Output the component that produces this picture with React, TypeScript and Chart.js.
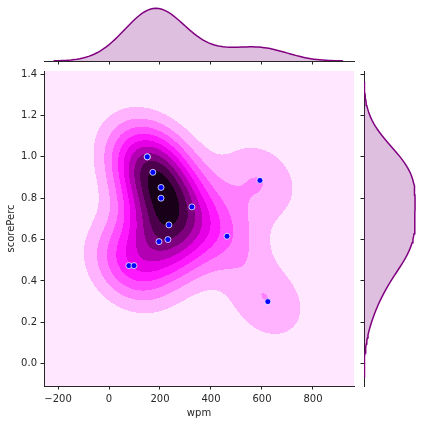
import React, { useEffect, useRef } from 'react';
import { Chart, registerables } from 'chart.js';

Chart.register(...registerables);

// ---- data ----
// (150, 1.0) appears twice: two overlapping markers (the KDE extents and marginals need the 14th point)
const WPM = [150, 150, 172, 204, 204, 325, 235, 231, 196, 78, 98, 592, 463, 623];
const SCORE_PERC = [1.0, 1.0, 0.925, 0.852, 0.8, 0.758, 0.671, 0.6, 0.59, 0.474, 0.474, 0.886, 0.616, 0.3];
const X_TICKS = [-200, 0, 200, 400, 600, 800];
const Y_TICKS = [0.0, 0.2, 0.4, 0.6, 0.8, 1.0, 1.2, 1.4];
const X_LIMITS = [-255, 961];
const Y_LIMITS = [-0.108, 1.415];
const X_LABEL = 'wpm';
const Y_LABEL = 'scorePerc';

const PURPLE = '#800080';
const PURPLE_FILL = 'rgba(128,0,128,0.25)';
const INK = '#262626';
const FONT = { family: 'DejaVu Sans', size: 10 };
const W = 424;
const H = 424;
const GRID = 100;

// ---- kernel density (scipy gaussian_kde, Scott's rule) ----
const mean = (a: number[]) => a.reduce((s, v) => s + v, 0) / a.length;
const cov = (a: number[], b: number[], ddof = 1) => {
  const ma = mean(a), mb = mean(b);
  let s = 0;
  for (let i = 0; i < a.length; i++) s += (a[i] - ma) * (b[i] - mb);
  return s / (a.length - ddof);
};

function kde2d(xs: number[], ys: number[]) {
  const n = xs.length;
  const f2 = Math.pow(n, -2 / 6);
  const sxx = cov(xs, xs) * f2, syy = cov(ys, ys) * f2, sxy = cov(xs, ys) * f2;
  const det = sxx * syy - sxy * sxy;
  const ixx = syy / det, iyy = sxx / det, ixy = -sxy / det;
  const norm = 1 / (n * 2 * Math.PI * Math.sqrt(det));
  const fn = (x: number, y: number) => {
    let s = 0;
    for (let i = 0; i < n; i++) {
      const dx = x - xs[i], dy = y - ys[i];
      s += Math.exp(-0.5 * (ixx * dx * dx + 2 * ixy * dx * dy + iyy * dy * dy));
    }
    return s * norm;
  };
  const factor = Math.pow(n, -1 / 6);
  const bwx = factor * Math.sqrt(cov(xs, xs));
  const bwy = factor * Math.sqrt(cov(ys, ys));
  return { fn, bwx, bwy };
}

function kde1d(vals: number[]) {
  const n = vals.length;
  const f = Math.pow(n, -0.2);
  const bw = f * Math.sqrt(cov(vals, vals));
  const bwSupport = f * Math.sqrt(cov(vals, vals, 0));
  const fn = (x: number) => {
    let s = 0;
    for (const v of vals) {
      const d = (x - v) / bw;
      s += Math.exp(-0.5 * d * d);
    }
    return s / (n * bw * Math.sqrt(2 * Math.PI));
  };
  const lo = Math.min(...vals) - 3 * bwSupport;
  const hi = Math.max(...vals) + 3 * bwSupport;
  const pts: { v: number; d: number }[] = [];
  for (let i = 0; i < GRID; i++) {
    const v = lo + ((hi - lo) * i) / (GRID - 1);
    pts.push({ v, d: fn(v) });
  }
  return pts;
}

// matplotlib MaxNLocator(n_levels + 1) for contourf levels
function contourLevels(zmin: number, zmax: number, nbins: number) {
  const dv = zmax - zmin;
  const scale = Math.pow(10, Math.floor(Math.log10(dv / nbins)));
  const raw = dv / nbins;
  const steps = [1, 1.5, 2, 2.5, 3, 4, 5, 6, 8, 10].map((s) => s * scale);
  const step = steps.find((s) => s >= raw * (1 - 1e-12)) as number;
  const best = Math.floor(zmin / step) * step;
  const high = Math.ceil((zmax - best) / step - 1e-10);
  return { step, base: best, count: high };
}

// seaborn jointplot cmap: blend of 12 HLS colors (hue of purple) from l=1 to l=0
function cmap(t: number): [number, number, number] {
  const anchors: number[][] = [];
  for (let k = 0; k < 12; k++) {
    const l = 1 - k / 11;
    anchors.push(l > 0.5 ? [1, 2 * l - 1, 1] : [2 * l, 0, 2 * l]);
  }
  const idx = Math.min(255, Math.max(0, Math.floor(t * 256)));
  const x = (idx / 255) * 11;
  const k = Math.min(10, Math.floor(x));
  const fr = x - k;
  const c = anchors[k].map((v, j) => v + (anchors[k + 1][j] - v) * fr);
  return [Math.round(c[0] * 255), Math.round(c[1] * 255), Math.round(c[2] * 255)];
}

const setTicks = (vals: number[]) => (scale: any) => {
  scale.ticks = vals.map((v) => ({ value: v }));
};
const fmtX = (v: any) => (Number(v) < 0 ? '\u2212' + Math.abs(Number(v)) : String(v));
const fmtY = (v: any) => Number(v).toFixed(1);

export default function App() {
  const mainRef = useRef<HTMLCanvasElement>(null);
  const topRef = useRef<HTMLCanvasElement>(null);
  const rightRef = useRef<HTMLCanvasElement>(null);

  useEffect(() => {
    const { fn: dens, bwx, bwy } = kde2d(WPM, SCORE_PERC);
    // seaborn evaluates the density on a 100x100 grid (cut = 3 bandwidths)
    const gx0 = Math.min(...WPM) - 3 * bwx, gx1 = Math.max(...WPM) + 3 * bwx;
    const gy0 = Math.min(...SCORE_PERC) - 3 * bwy, gy1 = Math.max(...SCORE_PERC) + 3 * bwy;
    const gdx = (gx1 - gx0) / (GRID - 1), gdy = (gy1 - gy0) / (GRID - 1);
    const grid = new Float64Array(GRID * GRID);
    let zmin = Infinity, zmax = -Infinity;
    for (let j = 0; j < GRID; j++) {
      for (let i = 0; i < GRID; i++) {
        const z = dens(gx0 + gdx * i, gy0 + gdy * j);
        grid[j * GRID + i] = z;
        if (z < zmin) zmin = z;
        if (z > zmax) zmax = z;
      }
    }
    const sample = (x: number, y: number) => {
      let fx = (x - gx0) / gdx, fy = (y - gy0) / gdy;
      fx = Math.max(0, Math.min(GRID - 1.000001, fx));
      fy = Math.max(0, Math.min(GRID - 1.000001, fy));
      const i = Math.floor(fx), j = Math.floor(fy);
      const tx = fx - i, ty = fy - j;
      const z00 = grid[j * GRID + i], z10 = grid[j * GRID + i + 1];
      const z01 = grid[(j + 1) * GRID + i], z11 = grid[(j + 1) * GRID + i + 1];
      return (z00 * (1 - tx) + z10 * tx) * (1 - ty) + (z01 * (1 - tx) + z11 * tx) * ty;
    };
    const lev = contourLevels(zmin, zmax, 11);
    const bandColors = Array.from({ length: lev.count }, (_, i) => cmap((i + 0.5) / lev.count));

    const contourPlugin = {
      id: 'kdeContour',
      beforeDraw(chart: any) {
        const { ctx, chartArea: a, scales } = chart;
        const xs = scales.x, ys = scales.y;
        const left = Math.round(a.left), top = Math.round(a.top);
        const w = Math.round(a.right) - left, h = Math.round(a.bottom) - top;
        const img = ctx.createImageData(w, h);
        const colV = new Array(w), rowV = new Array(h);
        for (let px = 0; px < w; px++) colV[px] = xs.getValueForPixel(left + px + 0.5);
        for (let py = 0; py < h; py++) rowV[py] = ys.getValueForPixel(top + py + 0.5);
        for (let py = 0; py < h; py++) {
          for (let px = 0; px < w; px++) {
            const z = sample(colV[px], rowV[py]);
            let b = Math.floor((z - lev.base) / lev.step);
            if (b < 0) b = 0;
            if (b > lev.count - 1) b = lev.count - 1;
            const c = bandColors[b];
            const o = (py * w + px) * 4;
            img.data[o] = c[0];
            img.data[o + 1] = c[1];
            img.data[o + 2] = c[2];
            img.data[o + 3] = 255;
          }
        }
        ctx.putImageData(img, left, top);
      },
    };

    const axisCommon = {
      grid: { display: true, drawOnChartArea: false, drawTicks: true, tickLength: 3.5, color: INK, lineWidth: 1 },
      border: { display: true, color: INK, width: 1 },
    };

    const main = new Chart(mainRef.current as HTMLCanvasElement, {
      type: 'scatter',
      data: {
        datasets: [
          {
            data: WPM.map((x, i) => ({ x, y: SCORE_PERC[i] })),
            backgroundColor: '#0000ff',
            borderColor: '#ffffff',
            borderWidth: 0.75,
            pointRadius: 3,
            pointHoverRadius: 3,
          },
        ],
      },
      options: {
        responsive: false,
        animation: false,
        events: [],
        layout: { padding: { top: 71, right: 70, left: 0, bottom: 0 } },
        plugins: { legend: { display: false }, tooltip: { enabled: false } },
        scales: {
          x: {
            type: 'linear',
            min: X_LIMITS[0],
            max: X_LIMITS[1],
            afterBuildTicks: setTicks(X_TICKS),
            afterFit: (s: any) => { s.height = 38; },
            ...axisCommon,
            ticks: { color: INK, font: FONT, padding: 3.5, maxRotation: 0, autoSkip: false, callback: fmtX },
            title: { display: true, text: X_LABEL, color: INK, font: FONT, padding: { top: 0, bottom: 4.5 } },
          },
          y: {
            type: 'linear',
            min: Y_LIMITS[0],
            max: Y_LIMITS[1],
            afterBuildTicks: setTicks(Y_TICKS),
            afterFit: (s: any) => { s.width = 44; },
            ...axisCommon,
            ticks: { color: INK, font: FONT, padding: 3.5, autoSkip: false, callback: fmtY },
            title: { display: true, text: Y_LABEL, color: INK, font: FONT, padding: { top: 5.5, bottom: 0 } },
          },
        },
      },
      plugins: [contourPlugin],
    } as any);

    // top marginal: KDE of wpm
    const topPts = kde1d(WPM);
    const topPeak = Math.max(...topPts.map((p) => p.d));
    const top = new Chart(topRef.current as HTMLCanvasElement, {
      type: 'line',
      data: {
        datasets: [
          {
            data: topPts.map((p) => ({ x: p.v, y: p.d })),
            borderColor: PURPLE,
            borderWidth: 1.5,
            backgroundColor: PURPLE_FILL,
            fill: 'origin',
            pointRadius: 0,
            tension: 0,
          },
        ],
      },
      options: {
        responsive: false,
        animation: false,
        events: [],
        layout: { padding: { top: 5.7, right: 70, left: 44, bottom: H - 61 - 4 } },
        plugins: { legend: { display: false }, tooltip: { enabled: false } },
        scales: {
          x: {
            type: 'linear',
            min: X_LIMITS[0],
            max: X_LIMITS[1],
            afterBuildTicks: setTicks(X_TICKS),
            afterFit: (s: any) => { s.height = 4; },
            ...axisCommon,
            ticks: { display: false },
          },
          y: { type: 'linear', display: false, min: 0, max: topPeak * 1.05 },
        },
      },
    } as any);

    // right marginal: KDE of scorePerc
    const rightPts = kde1d(SCORE_PERC);
    const rightPeak = Math.max(...rightPts.map((p) => p.d));
    const right = new Chart(rightRef.current as HTMLCanvasElement, {
      type: 'line',
      data: {
        datasets: [
          {
            data: rightPts.map((p) => ({ x: p.d, y: p.v })),
            borderColor: PURPLE,
            borderWidth: 1.5,
            backgroundColor: PURPLE_FILL,
            fill: 'origin',
            pointRadius: 0,
            tension: 0,
          },
        ],
      },
      options: {
        indexAxis: 'y',
        responsive: false,
        animation: false,
        events: [],
        layout: { padding: { top: 71, right: 6.4, left: 364 - 4, bottom: H - 386 } },
        plugins: { legend: { display: false }, tooltip: { enabled: false } },
        scales: {
          y: {
            type: 'linear',
            position: 'left',
            min: Y_LIMITS[0],
            max: Y_LIMITS[1],
            afterBuildTicks: setTicks(Y_TICKS),
            afterFit: (s: any) => { s.width = 4; },
            ...axisCommon,
            ticks: { display: false },
          },
          x: { type: 'linear', display: false, min: 0, max: rightPeak * 1.05 },
        },
      },
    } as any);

    return () => {
      main.destroy();
      top.destroy();
      right.destroy();
    };
  }, []);

  const cv: React.CSSProperties = { position: 'absolute', left: 0, top: 0, width: W, height: H };
  return (
    <div style={{ position: 'absolute', left: 0, top: 0, width: W, height: H, background: '#ffffff' }}>
      <canvas ref={mainRef} width={W} height={H} style={cv} />
      <canvas ref={topRef} width={W} height={H} style={cv} />
      <canvas ref={rightRef} width={W} height={H} style={cv} />
    </div>
  );
}
